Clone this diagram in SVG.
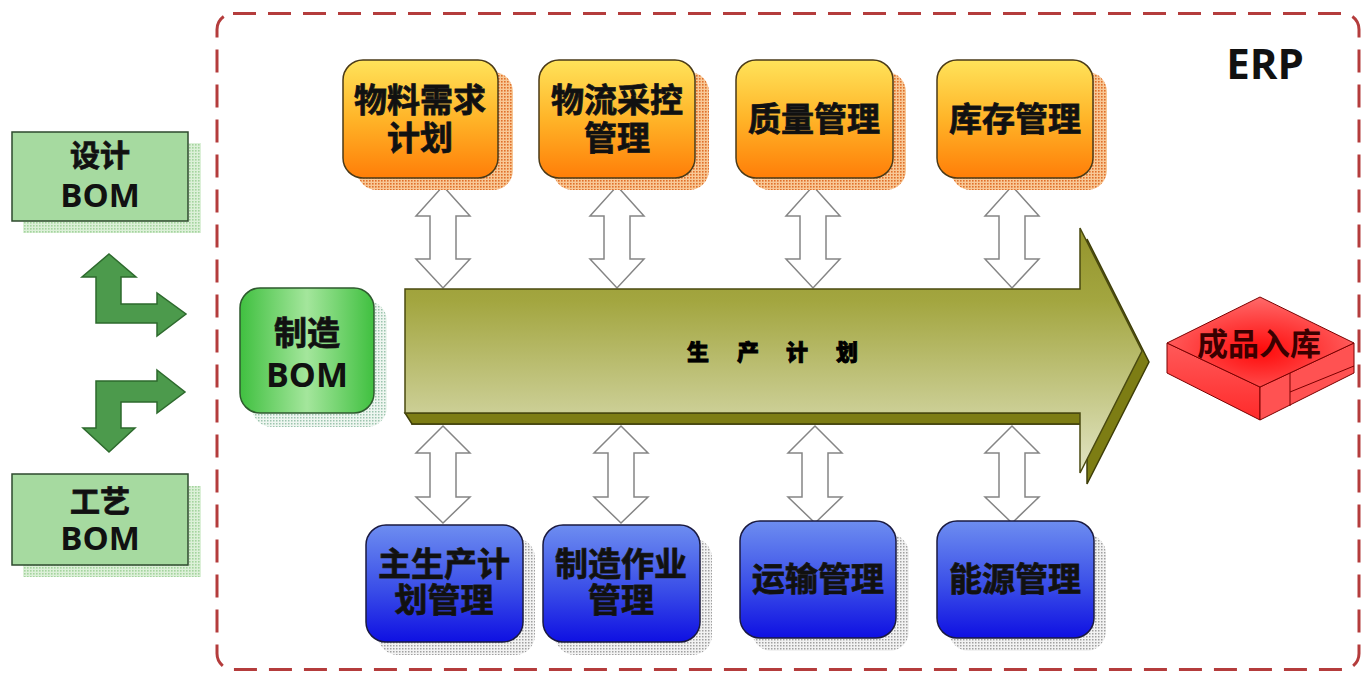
<svg xmlns="http://www.w3.org/2000/svg" width="1362" height="673" viewBox="0 0 1362 673">
<style>
.cjk{font-family:"Noto Sans CJK SC","Noto Sans",sans-serif;font-weight:700;fill:#111;text-anchor:middle;stroke:#222;stroke-width:0.8;paint-order:stroke}
.lat{font-family:"Open Sans","Liberation Sans",sans-serif;font-weight:700;fill:#111;text-anchor:middle}
.dbl{fill:#fff;stroke:#858585;stroke-width:1.5;stroke-linejoin:miter}
.garrow{fill:#4c9a4c;stroke:#2d6a2d;stroke-width:1.5;stroke-linejoin:miter}
.orange{fill:url(#gOr);stroke:#4a3a18;stroke-width:1.5}
.blue{fill:url(#gBl);stroke:#1a1a40;stroke-width:1.5}
.lgreen{fill:#a6daa0;stroke:#2e4a2e;stroke-width:1.5}
</style>
<defs>
<linearGradient id="gOr" x1="0" y1="0" x2="0" y2="1">
<stop offset="0" stop-color="#ffe35a"/><stop offset="0.5" stop-color="#ffb428"/><stop offset="1" stop-color="#ff7e08"/>
</linearGradient>
<linearGradient id="gBl" x1="0" y1="0" x2="0" y2="1">
<stop offset="0" stop-color="#6d8df0"/><stop offset="0.55" stop-color="#3a4ee8"/><stop offset="1" stop-color="#0f10e2"/>
</linearGradient>
<linearGradient id="gGr" x1="0" y1="0" x2="1" y2="0">
<stop offset="0" stop-color="#40c040"/><stop offset="0.5" stop-color="#a4e69c"/><stop offset="1" stop-color="#40c040"/>
</linearGradient>
<linearGradient id="gArrow" x1="0" y1="228" x2="0" y2="473" gradientUnits="userSpaceOnUse">
<stop offset="0" stop-color="#94942c"/><stop offset="0.3" stop-color="#a3a640"/><stop offset="1" stop-color="#e2e5c4"/>
</linearGradient>
<radialGradient id="gRedTop" cx="0.5" cy="0.6" r="0.6">
<stop offset="0" stop-color="#ff0a0a"/><stop offset="1" stop-color="#ff6a6a"/>
</radialGradient>
<linearGradient id="gRedL" x1="0" y1="0" x2="0" y2="1">
<stop offset="0" stop-color="#ff5a5a"/><stop offset="1" stop-color="#ff2a2a"/>
</linearGradient>
<pattern id="pOr" width="3" height="3" patternUnits="userSpaceOnUse"><rect width="3" height="3" fill="#f8c896"/><rect width="1.6" height="1.6" fill="#e0702a"/></pattern>
<pattern id="pGy" width="3" height="3" patternUnits="userSpaceOnUse"><rect width="3" height="3" fill="#f2f2f2"/><rect width="1.5" height="1.5" fill="#a0a0a0"/></pattern>
<pattern id="pLg" width="3" height="3" patternUnits="userSpaceOnUse"><rect width="3" height="3" fill="#dcf0d8"/><rect width="1.6" height="1.6" fill="#a4d49e"/></pattern>
<pattern id="pMg" width="3" height="3" patternUnits="userSpaceOnUse"><rect width="3" height="3" fill="#eef6f0"/><rect width="1.5" height="1.5" fill="#9cc4ae"/></pattern>
<path id="dblTop" class="dbl" d="M0,0 L27,30 L13,30 L13,73 L27,73 L0,102 L-27,73 L-13,73 L-13,30 L-27,30 Z"/>
<path id="dblBot" class="dbl" d="M0,0 L27,27 L13,27 L13,71 L27,71 L0,97 L-27,71 L-13,71 L-13,27 L-27,27 Z"/>
</defs>
<rect width="1362" height="673" fill="#fff"/>

<!-- ERP boundary -->
<g id="erp">
<rect x="217" y="13.5" width="1142" height="656" rx="16" fill="none" stroke="#b43c3c" stroke-width="3" stroke-dasharray="23 12"/>
<text x="1265" y="79" font-family="Open Sans, Liberation Sans, sans-serif" font-weight="700" font-size="42" text-anchor="middle" fill="#111">ERP</text>
</g>

<!-- connectors -->
<g id="connectors">
<path class="garrow" d="M109,254 L136,277 L121,277 L121,304 L157,304 L157,293 L186,314 L157,336 L157,323 L96,323 L96,277 L82,277 Z"/>
<path class="garrow" d="M157,370 L185,392 L157,413 L157,402 L121,402 L121,428 L135,428 L109,452 L83,428 L96,428 L96,381 L157,381 Z"/>
<use href="#dblTop" x="443" y="186"/>
<use href="#dblTop" x="617" y="186"/>
<use href="#dblTop" x="813" y="186"/>
<use href="#dblTop" x="1012" y="186"/>
<use href="#dblBot" x="443" y="426"/>
<use href="#dblBot" x="621" y="426"/>
<use href="#dblBot" x="815" y="426"/>
<use href="#dblBot" x="1012" y="426"/>
</g>

<!-- big arrow 生产计划 -->
<g id="production-plan">
<polygon points="412,300 1087,300 1087,239 1149,362 1087,484 1087,424 412,424" fill="#7d7d14" stroke="#3e3e08" stroke-width="1.5"/>
<polygon points="405,413 1080,413 1087,424 412,424" fill="#7d7d14" stroke="#3e3e08" stroke-width="1.5"/>
<polygon points="405,289 1080,289 1080,228 1142,351 1080,473 1080,413 405,413" fill="url(#gArrow)" stroke="#4a4a10" stroke-width="1.5"/>
<text font-family="Noto Sans CJK SC, sans-serif" font-weight="900" font-size="22" fill="#000" stroke="#000" stroke-width="0.8" text-anchor="middle" y="360"><tspan x="698">生</tspan><tspan x="748">产</tspan><tspan x="797">计</tspan><tspan x="847">划</tspan></text>
</g>

<!-- left BOM boxes -->
<g id="design-bom">
<rect x="23" y="143" width="178" height="90" fill="url(#pLg)"/>
<rect class="lgreen" x="12" y="132" width="176" height="89"/>
<text class="cjk" x="100" y="166" font-size="30">设计</text>
<text class="lat" x="100" y="207" font-size="33">BOM</text>
</g>
<g id="process-bom">
<rect x="23" y="486" width="178" height="91" fill="url(#pLg)"/>
<rect class="lgreen" x="12" y="474" width="176" height="91"/>
<text class="cjk" x="100" y="512" font-size="30">工艺</text>
<text class="lat" x="100" y="550" font-size="33">BOM</text>
</g>
<g id="mfg-bom">
<rect x="252" y="301" width="135" height="126" rx="20" fill="url(#pMg)"/>
<rect x="240" y="288" width="134" height="125" rx="20" fill="url(#gGr)" stroke="#2e5a2e" stroke-width="1.5"/>
<text class="cjk" x="307" y="345" font-size="33">制造</text>
<text class="lat" x="307" y="387" font-size="34">BOM</text>
</g>

<!-- top orange boxes -->
<g id="mrp">
<rect x="357" y="72" width="156" height="118" rx="20" fill="url(#pOr)"/>
<rect class="orange" x="343" y="60" width="155" height="118" rx="20"/>
<text class="cjk" x="420" y="112" font-size="33">物料需求</text>
<text class="cjk" x="420" y="150" font-size="33">计划</text>
</g>
<g id="logistics">
<rect x="553" y="72" width="156" height="118" rx="20" fill="url(#pOr)"/>
<rect class="orange" x="539" y="60" width="156" height="118" rx="20"/>
<text class="cjk" x="617" y="112" font-size="33">物流采控</text>
<text class="cjk" x="617" y="150" font-size="33">管理</text>
</g>
<g id="quality">
<rect x="750" y="72" width="156" height="118" rx="20" fill="url(#pOr)"/>
<rect class="orange" x="736" y="60" width="157" height="118" rx="20"/>
<text class="cjk" x="814" y="131" font-size="33">质量管理</text>
</g>
<g id="inventory">
<rect x="951" y="72" width="156" height="118" rx="20" fill="url(#pOr)"/>
<rect class="orange" x="937" y="60" width="156" height="118" rx="20"/>
<text class="cjk" x="1015" y="131" font-size="33">库存管理</text>
</g>

<!-- bottom blue boxes -->
<g id="mps">
<rect x="378" y="538" width="157" height="117" rx="20" fill="url(#pGy)"/>
<rect class="blue" x="366" y="525" width="157" height="117" rx="20"/>
<text class="cjk" x="444" y="576" font-size="33">主生产计</text>
<text class="cjk" x="444" y="612" font-size="33">划管理</text>
</g>
<g id="shop-floor">
<rect x="555" y="538" width="157" height="117" rx="20" fill="url(#pGy)"/>
<rect class="blue" x="543" y="525" width="157" height="117" rx="20"/>
<text class="cjk" x="621" y="576" font-size="33">制造作业</text>
<text class="cjk" x="621" y="612" font-size="33">管理</text>
</g>
<g id="transport">
<rect x="752" y="534" width="157" height="117" rx="20" fill="url(#pGy)"/>
<rect class="blue" x="740" y="521" width="156" height="117" rx="20"/>
<text class="cjk" x="818" y="591" font-size="33">运输管理</text>
</g>
<g id="energy">
<rect x="949" y="534" width="157" height="117" rx="20" fill="url(#pGy)"/>
<rect class="blue" x="937" y="521" width="157" height="117" rx="20"/>
<text class="cjk" x="1015" y="591" font-size="33">能源管理</text>
</g>

<!-- finished goods warehouse -->
<g id="warehouse">
<polygon points="1167,343 1260,387 1260,420 1167,373" fill="url(#gRedL)" stroke="#7a0000" stroke-width="1"/>
<polygon points="1260,387 1354,343 1354,373 1260,420" fill="#ff5252" stroke="#7a0000" stroke-width="1"/>
<line x1="1290" y1="373" x2="1290" y2="406" stroke="#7a0000" stroke-width="1"/>
<line x1="1290" y1="392" x2="1354" y2="366" stroke="#7a0000" stroke-width="1"/>
<polygon points="1167,343 1260,297 1354,343 1260,387" fill="url(#gRedTop)" stroke="#7a0000" stroke-width="1"/>
<text x="1259" y="355" font-family="Noto Sans CJK SC, sans-serif" font-weight="700" font-size="31" fill="#3a0000" text-anchor="middle">成品入库</text>
</g>
</svg>
